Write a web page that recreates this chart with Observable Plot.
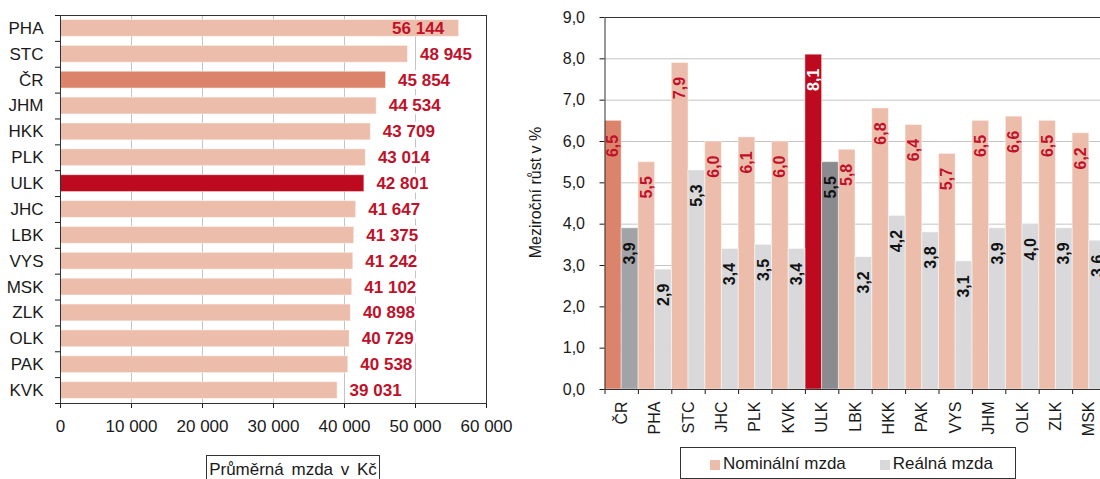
<!DOCTYPE html>
<html>
<head>
<meta charset="utf-8">
<script src="https://cdn.jsdelivr.net/npm/d3@7"></script>
<script src="https://cdn.jsdelivr.net/npm/@observablehq/plot@0.6"></script>
<style>
html, body { margin: 0; padding: 0; background: #fff; overflow: hidden; }
#wrap { position: relative; width: 1100px; height: 479px; overflow: hidden;
  font-family: "Liberation Sans", Arial, sans-serif; color: #1a1a1a; }
#left { position: absolute; left: 0; top: 0; width: 520px; }
#right { position: absolute; left: 520px; top: 0; width: 600px; }
#left svg, #right svg { max-width: none !important; }
.box { position: absolute; border: 1px solid #333; background: #fff; box-sizing: border-box;
  font-size: 17px; white-space: nowrap; }
#caption { left: 206px; top: 455px; width: 174px; height: 34px; line-height: 28px; text-align: center; word-spacing: 3px; }
#legend { left: 680px; top: 447px; width: 336px; height: 32px; line-height: 32px; padding-left: 29px; }
.sw { display: inline-block; width: 10px; height: 10px; margin-right: 3px; vertical-align: -1px; }
.item2 { margin-left: 34px; }
</style>
</head>
<body>
<div id="wrap">
  <div id="left"></div>
  <div id="right"></div>
  <div id="caption" class="box">Průměrná mzda v Kč</div>
  <div id="legend" class="box"><span class="sw" id="swN"></span>Nominální mzda<span class="item2"><span class="sw" id="swR"></span>Reálná mzda</span></div>
</div>
<script>
// ---- data: left chart (average wage, CZK) ----
const wageRegions = ["PHA","STC","ČR","JHM","HKK","PLK","ULK","JHC","LBK","VYS","MSK","ZLK","OLK","PAK","KVK"];
const wageValues  = [56144,48945,45854,44534,43709,43014,42801,41647,41375,41242,41102,40898,40729,40538,39031];
const wageTicks   = [0,10000,20000,30000,40000,50000,60000];

// ---- data: right chart (year-on-year growth, %) ----
const growthRegions = ["ČR","PHA","STC","JHC","PLK","KVK","ULK","LBK","HKK","PAK","VYS","JHM","OLK","ZLK","MSK"];
const nominalGrowth = [6.5,5.5,7.9,6.0,6.1,6.0,8.1,5.8,6.8,6.4,5.7,6.5,6.6,6.5,6.2];
const realGrowth    = [3.9,2.9,5.3,3.4,3.5,3.4,5.5,3.2,4.2,3.8,3.1,3.9,4.0,3.9,3.6];
const growthTicks   = [0,1,2,3,4,5,6,7,8,9];

const totalKey = "ČR";
const regionKey = "ULK";
const yLabel = "Meziroční růst v %";

// ---- colours ----
const lightNom = "#edbdab", totalNom = "#db846b", regionNom = "#be0a1e";
const lightReal = "#d9d9db", totalReal = "#a1a3a6", regionReal = "#898b8e";
const labelRed = "#c0102a";
document.getElementById("swN").style.background = lightNom;
document.getElementById("swR").style.background = lightReal;

const nomFill = r => r === totalKey ? totalNom : r === regionKey ? regionNom : lightNom;
const realFill = r => r === totalKey ? totalReal : r === regionKey ? regionReal : lightReal;

const fmtThousands = d => d3.format(",")(d).replace(/,/g, " ");
const fmtDec = d => d.toFixed(1).replace(".", ",");
const font = "Liberation Sans, Arial, sans-serif";

const wages = wageRegions.map((r, i) => ({region: r, value: wageValues[i]}));
const nominal = growthRegions.map((r, i) => ({region: r, value: nominalGrowth[i]}));
const real = growthRegions.map((r, i) => ({region: r, value: realGrowth[i]}));

// ---- left chart ----
const L = {width: 520, height: 440, mt: 15, mb: 37, ml: 60, mr: 34};
const lBand = (L.height - L.mt - L.mb) / wageRegions.length;
const xMax = wageTicks[wageTicks.length - 1];
const fitsOutside = d => d.value < xMax * 0.92;

const left = Plot.plot({
  width: L.width, height: L.height,
  marginTop: L.mt, marginBottom: L.mb, marginLeft: L.ml, marginRight: L.mr,
  style: {fontFamily: font, fontSize: "17px", color: "#1a1a1a", background: "transparent", maxWidth: "none"},
  x: {domain: [0, xMax]},
  y: {domain: wageRegions, padding: 0, round: false},
  marks: [
    Plot.gridX(wageTicks.slice(1, -1), {stroke: "#c4c4c4", strokeOpacity: 1}),
    Plot.barX(wages, {x: "value", y: "region", fill: d => nomFill(d.region),
      insetTop: 4.5, insetBottom: 4.5, stroke: "#fff", strokeOpacity: 0.5, strokeWidth: 1}),
    Plot.text(wages.filter(fitsOutside), {x: "value", y: "region", text: d => fmtThousands(d.value),
      textAnchor: "start", dx: 12, fill: labelRed, fontWeight: "bold", fontSize: 17,
      stroke: "#ffffff", strokeWidth: 7, paintOrder: "stroke"}),
    Plot.text(wages.filter(d => !fitsOutside(d)), {x: "value", y: "region", text: d => fmtThousands(d.value),
      textAnchor: "end", dx: -15, fill: labelRed, fontWeight: "bold", fontSize: 17}),
    Plot.axisX(wageTicks, {tickSize: 5, tickPadding: 11, tickFormat: fmtThousands, label: null, fontSize: 17}),
    Plot.axisY({tickSize: 0, tickPadding: 17, label: null, fontSize: 17}),
    Plot.axisY({fill: "none", tickSize: 5, dy: -lBand / 2, label: null}),
    Plot.axisY([wageRegions[wageRegions.length - 1]], {fill: "none", tickSize: 5, dy: lBand / 2, label: null}),
    Plot.frame({stroke: "#333"})
  ]
});
document.getElementById("left").append(left);

// ---- right chart ----
const R = {width: 600, height: 440, mt: 17, mb: 51, ml: 84.5, mr: 14.5};
const rBand = (R.width - R.ml - R.mr) / growthRegions.length;

const right = Plot.plot({
  width: R.width, height: R.height,
  marginTop: R.mt, marginBottom: R.mb, marginLeft: R.ml, marginRight: R.mr,
  style: {fontFamily: font, fontSize: "16px", color: "#1a1a1a", background: "transparent", maxWidth: "none"},
  x: {domain: growthRegions, padding: 0, round: false},
  y: {domain: [growthTicks[0], growthTicks[growthTicks.length - 1]]},
  marks: [
    Plot.gridY(growthTicks.slice(1, -1), {stroke: "#c4c4c4", strokeOpacity: 1}),
    Plot.barY(nominal, {x: "region", y: "value", fill: d => nomFill(d.region), insetRight: rBand / 2,
      stroke: "#fff", strokeOpacity: 0.45, strokeWidth: 1}),
    Plot.barY(real, {x: "region", y: "value", fill: d => realFill(d.region), insetLeft: rBand / 2,
      stroke: "#fff", strokeOpacity: 0.45, strokeWidth: 1}),
    Plot.text(nominal, {x: "region", y: "value", text: d => fmtDec(d.value), rotate: -90,
      textAnchor: "end", dx: -rBand / 4, dy: 14,
      fill: d => d.region === regionKey ? "#ffffff" : labelRed, fontWeight: "bold", fontSize: 16}),
    Plot.text(real, {x: "region", y: "value", text: d => fmtDec(d.value), rotate: -90,
      textAnchor: "end", dx: rBand / 4, dy: 14, fill: "#111111", fontWeight: "bold", fontSize: 16}),
    Plot.axisY(growthTicks, {tickSize: 5, tickPadding: 15, tickFormat: fmtDec, label: null, fontSize: 16}),
    Plot.axisX({tickSize: 0, tickRotate: -90, tickPadding: 12, label: null, fontSize: 16}),
    Plot.axisX({fill: "none", tickSize: 5, dx: -rBand / 2, label: null}),
    Plot.text([yLabel], {text: d => d, frameAnchor: "left", textAnchor: "middle", rotate: -90,
      dx: -69, dy: -11, fontSize: 16, fill: "#1a1a1a"}),
    Plot.frame({stroke: "#333"})
  ]
});
document.getElementById("right").append(right);
</script>
</body>
</html>
